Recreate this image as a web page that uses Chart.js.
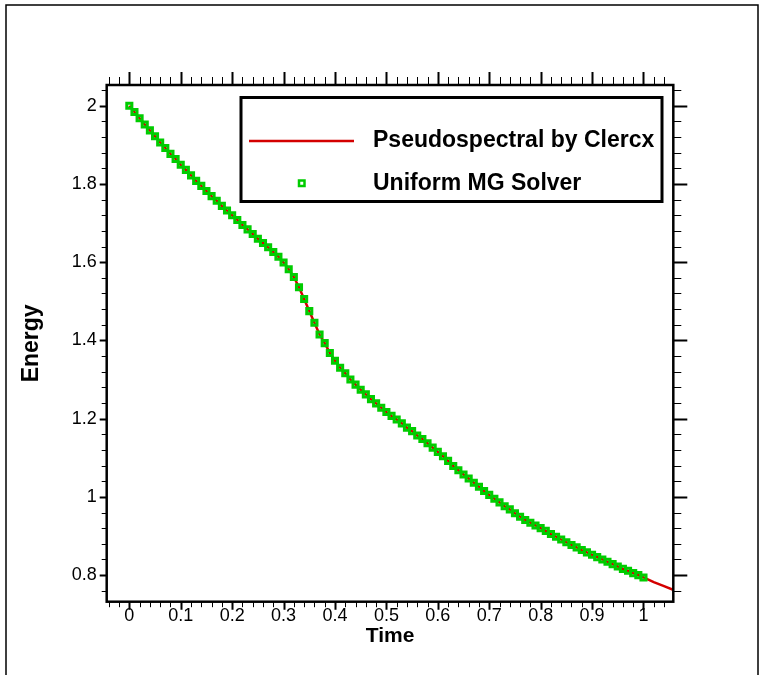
<!DOCTYPE html>
<html>
<head>
<meta charset="utf-8">
<title>Energy vs Time</title>
<script src="https://cdn.jsdelivr.net/npm/chart.js@4.4.1/dist/chart.umd.min.js"></script>
<style>
    html, body { margin: 0; padding: 0; background: #fff; }
    #wrap { width: 760px; height: 675px; }
</style>
</head>
<body>
<div id="wrap"><canvas id="energyChart" width="760" height="675"></canvas></div>
<script>
// Values
const time = [
    0.00, 0.01, 0.02, 0.03, 0.04, 0.05, 0.06, 0.07, 0.08, 0.09,
    0.10, 0.11, 0.12, 0.13, 0.14, 0.15, 0.16, 0.17, 0.18, 0.19,
    0.20, 0.21, 0.22, 0.23, 0.24, 0.25, 0.26, 0.27, 0.28, 0.29,
    0.30, 0.31, 0.32, 0.33, 0.34, 0.35, 0.36, 0.37, 0.38, 0.39,
    0.40, 0.41, 0.42, 0.43, 0.44, 0.45, 0.46, 0.47, 0.48, 0.49,
    0.50, 0.51, 0.52, 0.53, 0.54, 0.55, 0.56, 0.57, 0.58, 0.59,
    0.60, 0.61, 0.62, 0.63, 0.64, 0.65, 0.66, 0.67, 0.68, 0.69,
    0.70, 0.71, 0.72, 0.73, 0.74, 0.75, 0.76, 0.77, 0.78, 0.79,
    0.80, 0.81, 0.82, 0.83, 0.84, 0.85, 0.86, 0.87, 0.88, 0.89,
    0.90, 0.91, 0.92, 0.93, 0.94, 0.95, 0.96, 0.97, 0.98, 0.99,
    1.00
];

const mgEnergy = [
    2.000, 1.984, 1.968, 1.952, 1.937, 1.922, 1.906, 1.892, 1.877, 1.864,
    1.849, 1.836, 1.822, 1.808, 1.795, 1.782, 1.769, 1.757, 1.744, 1.732,
    1.720, 1.708, 1.695, 1.684, 1.672, 1.660, 1.649, 1.638, 1.626, 1.614,
    1.599, 1.582, 1.562, 1.536, 1.506, 1.475, 1.445, 1.415, 1.393, 1.368,
    1.348, 1.330, 1.316, 1.300, 1.287, 1.274, 1.262, 1.250, 1.239, 1.228,
    1.217, 1.207, 1.198, 1.188, 1.177, 1.168, 1.157, 1.148, 1.137, 1.126,
    1.115, 1.104, 1.092, 1.079, 1.068, 1.057, 1.047, 1.036, 1.026, 1.015,
    1.005, 0.995, 0.986, 0.976, 0.968, 0.958, 0.949, 0.941, 0.934, 0.927,
    0.920, 0.913, 0.905, 0.898, 0.891, 0.884, 0.877, 0.871, 0.864, 0.858,
    0.852, 0.846, 0.840, 0.834, 0.828, 0.822, 0.816, 0.811, 0.805, 0.800,
    0.794
];

// the reference curve runs on past t = 1
const specTailTime = [1.02, 1.04, 1.06];
const specTailEnergy = [0.782, 0.772, 0.761];

const xTickValues = [0, 0.1, 0.2, 0.3, 0.4, 0.5, 0.6, 0.7, 0.8, 0.9, 1];
const xTickLabels = ['0', '0.1', '0.2', '0.3', '0.4', '0.5', '0.6', '0.7', '0.8', '0.9', '1'];
const yTickValues = [0.8, 1, 1.2, 1.4, 1.6, 1.8, 2];
const yTickLabels = ['0.8', '1', '1.2', '1.4', '1.6', '1.8', '2'];

const seriesNames = ['Pseudospectral by Clercx', 'Uniform MG Solver'];

const RED = '#d40000';
const GREEN = '#00cc00';
const FONT = '"Liberation Sans", Arial, Helvetica, sans-serif';

const mgPoints = time.map((t, i) => ({ x: t, y: mgEnergy[i] }));
const specPoints = mgPoints.concat(specTailTime.map((t, i) => ({ x: t, y: specTailEnergy[i] })));

// frame, Tecplot-like ticks on all four sides, and the boxed legend
const framePlugin = {
    id: 'framePlugin',
    afterDatasetsDraw(chart) {
        const ctx = chart.ctx;
        const a = chart.chartArea;
        const x = chart.scales.x;
        const y = chart.scales.y;
        ctx.save();

        // outer page frame
        ctx.strokeStyle = '#000';
        ctx.lineWidth = 1.5;
        ctx.beginPath();
        ctx.moveTo(6, 680);
        ctx.lineTo(6, 5);
        ctx.lineTo(758, 5);
        ctx.lineTo(758, 680);
        ctx.stroke();

        // x ticks every 0.02, major every 0.1
        for (let k = -2; k <= 52; k++) {
            const v = k * 0.02;
            if (v < x.min || v > x.max) continue;
            const px = Math.round(x.getPixelForValue(v)) + 0.5;
            const major = k % 5 === 0;
            ctx.lineWidth = major ? 2 : 1;
            ctx.beginPath();
            ctx.moveTo(px, a.bottom);
            ctx.lineTo(px, a.bottom + (major ? 8 : 5.5));
            ctx.moveTo(px, a.top);
            ctx.lineTo(px, a.top - (major ? 13 : 8));
            ctx.stroke();
        }
        // y ticks every 0.04, major every 0.2
        for (let k = 19; k <= 51; k++) {
            const v = k * 0.04;
            if (v < y.min || v > y.max) continue;
            const py = Math.round(y.getPixelForValue(v)) + 0.5;
            const major = k % 5 === 0;
            ctx.lineWidth = major ? 2 : 1;
            ctx.beginPath();
            ctx.moveTo(a.left, py);
            ctx.lineTo(a.left - (major ? 7 : 5), py);
            ctx.moveTo(a.right, py);
            ctx.lineTo(a.right + (major ? 14 : 8), py);
            ctx.stroke();
        }

        // plot box
        ctx.lineWidth = 2.5;
        ctx.strokeRect(a.left, a.top, a.right - a.left, a.bottom - a.top);

        // legend
        ctx.lineWidth = 3;
        ctx.strokeRect(241, 97.5, 421, 104);
        ctx.strokeStyle = RED;
        ctx.lineWidth = 2.5;
        ctx.beginPath();
        ctx.moveTo(249, 141);
        ctx.lineTo(354, 141);
        ctx.stroke();
        ctx.strokeStyle = GREEN;
        ctx.lineWidth = 2.5;
        ctx.strokeRect(299, 180.5, 5.5, 5.5);
        ctx.fillStyle = '#000';
        ctx.font = 'bold 23px ' + FONT;
        ctx.textAlign = 'left';
        ctx.textBaseline = 'middle';
        ctx.fillText(seriesNames[0], 373, 141);
        ctx.fillText(seriesNames[1], 373, 184);

        ctx.restore();
    }
};

const ctx = document.getElementById('energyChart');
new Chart(ctx, {
    type: 'scatter',
    data: {
        datasets: [
            {
                label: seriesNames[1],
                data: mgPoints,
                showLine: false,
                pointStyle: 'rect',
                pointRadius: 3.6,
                pointBorderWidth: 3,
                pointBorderColor: GREEN,
                pointBackgroundColor: 'rgba(0,0,0,0)',
                order: 0
            },
            {
                label: seriesNames[0],
                data: specPoints,
                showLine: true,
                borderColor: RED,
                borderWidth: 2.5,
                pointRadius: 0,
                tension: 0,
                order: 1
            }
        ]
    },
    options: {
        responsive: false,
        animation: false,
        events: [],
        layout: { padding: { top: 85, right: 86.7, left: 0, bottom: 0 } },
        plugins: {
            legend: { display: false },
            tooltip: { enabled: false }
        },
        scales: {
            x: {
                type: 'linear',
                position: 'bottom',
                min: -0.044,
                max: 1.058,
                grid: { display: false, drawTicks: false },
                border: { display: false },
                afterBuildTicks: function(scale) {
                    scale.ticks = xTickValues.map(v => ({ value: v }));
                },
                afterFit: function(scale) {
                    scale.height = 73.3;
                },
                ticks: {
                    padding: 4,
                    color: '#000',
                    maxRotation: 0,
                    autoSkip: false,
                    font: { family: FONT, size: 18 },
                    callback: function(value, index) {
                        return xTickLabels[index];
                    }
                },
                title: {
                    display: true,
                    text: 'Time',
                    color: '#000',
                    font: { family: FONT, size: 21, weight: 'bold' },
                    padding: { top: 0, bottom: 26 }
                }
            },
            y: {
                type: 'linear',
                position: 'left',
                min: 0.732,
                max: 2.053,
                grid: { display: false, drawTicks: false },
                border: { display: false },
                afterBuildTicks: function(scale) {
                    scale.ticks = yTickValues.map(v => ({ value: v }));
                },
                afterFit: function(scale) {
                    scale.width = 106.7;
                },
                ticks: {
                    padding: 10,
                    color: '#000',
                    autoSkip: false,
                    font: { family: FONT, size: 18 },
                    callback: function(value, index) {
                        return yTickLabels[index];
                    }
                },
                title: {
                    display: true,
                    text: 'Energy',
                    color: '#000',
                    font: { family: FONT, size: 23, weight: 'bold' },
                    padding: { top: 18, bottom: 0 }
                }
            }
        }
    },
    plugins: [framePlugin]
});
</script>
</body>
</html>
